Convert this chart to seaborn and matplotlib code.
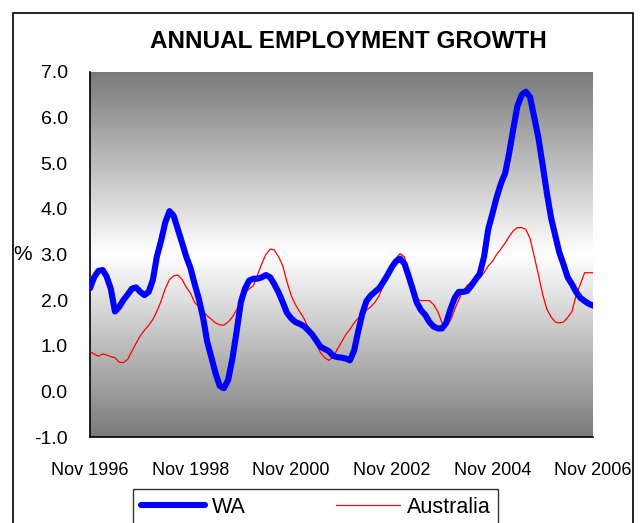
import numpy as np
import pandas as pd
import seaborn as sns
import matplotlib.pyplot as plt
from matplotlib.patches import Rectangle

# monthly annual employment growth (%), Nov 1996 - Nov 2006
wa_growth = [
    2.26, 2.50, 2.64, 2.66, 2.52, 2.25, 1.75, 1.85, 2.00, 2.12, 2.25, 2.28,
    2.18, 2.11, 2.18, 2.45, 2.95, 3.30, 3.70, 3.95, 3.85, 3.55, 3.25, 2.95,
    2.70, 2.35, 2.02, 1.60, 1.10, 0.75, 0.40, 0.12, 0.07, 0.25, 0.72, 1.30,
    1.95, 2.25, 2.43, 2.47, 2.47, 2.50, 2.55, 2.50, 2.35, 2.17, 1.95, 1.72,
    1.60, 1.52, 1.48, 1.43, 1.35, 1.25, 1.12, 0.98, 0.93, 0.88, 0.78, 0.75,
    0.74, 0.72, 0.68, 0.90, 1.30, 1.70, 1.98, 2.10, 2.18, 2.26, 2.40, 2.55,
    2.72, 2.85, 2.91, 2.80, 2.55, 2.25, 1.95, 1.78, 1.68, 1.52, 1.42, 1.38,
    1.38, 1.50, 1.80, 2.05, 2.18, 2.18, 2.20, 2.32, 2.45, 2.58, 2.95, 3.55,
    3.90, 4.25, 4.55, 4.78, 5.20, 5.75, 6.25, 6.50, 6.57, 6.45, 6.00, 5.55,
    4.95, 4.35, 3.80, 3.40, 3.05, 2.78, 2.50, 2.35, 2.18, 2.05, 1.98, 1.92,
    1.88,
]
aus_growth = [
    0.87, 0.82, 0.77, 0.82, 0.80, 0.76, 0.74, 0.64, 0.63, 0.70, 0.88, 1.05,
    1.22, 1.34, 1.45, 1.58, 1.75, 1.98, 2.25, 2.45, 2.53, 2.55, 2.45, 2.28,
    2.15, 1.95, 1.85, 1.75, 1.66, 1.58, 1.50, 1.46, 1.45, 1.52, 1.63, 1.78,
    1.95, 2.15, 2.25, 2.32, 2.55, 2.80, 3.00, 3.12, 3.10, 2.95, 2.75, 2.40,
    2.10, 1.90, 1.75, 1.60, 1.42, 1.25, 1.05, 0.85, 0.74, 0.68, 0.75, 0.92,
    1.08, 1.24, 1.36, 1.50, 1.60, 1.68, 1.78, 1.85, 1.95, 2.10, 2.32, 2.55,
    2.75, 2.92, 3.02, 2.95, 2.55, 2.22, 2.02, 1.99, 1.99, 1.99, 1.90, 1.75,
    1.50, 1.45, 1.55, 1.80, 2.00, 2.20, 2.32, 2.40, 2.45, 2.48, 2.60, 2.75,
    2.85, 3.00, 3.12, 3.25, 3.39, 3.52, 3.59, 3.59, 3.55, 3.35, 2.95, 2.55,
    2.12, 1.80, 1.63, 1.52, 1.50, 1.52, 1.62, 1.75, 2.10, 2.35, 2.60, 2.60,
    2.60,
]
months = pd.date_range('1996-11-01', periods=len(wa_growth), freq='MS')
tick_dates = pd.to_datetime(['1996-11-01', '1998-11-01', '2000-11-01',
                             '2002-11-01', '2004-11-01', '2006-11-01'])
tick_labels = ['Nov 1996', 'Nov 1998', 'Nov 2000', 'Nov 2002', 'Nov 2004', 'Nov 2006']
y_ticks = [-1.0, 0.0, 1.0, 2.0, 3.0, 4.0, 5.0, 6.0, 7.0]

df = pd.DataFrame({'month': months, 'WA': wa_growth, 'Australia': aus_growth})

sns.set_style('white')
plt.rcParams['font.family'] = ['Liberation Sans', 'DejaVu Sans']
plt.rcParams['axes.unicode_minus'] = False
for key in ['text.color', 'axes.labelcolor', 'xtick.color', 'ytick.color']:
    plt.rcParams[key] = 'black'

fig = plt.figure(figsize=(6.43, 5.23), dpi=100)
ax = fig.add_axes([90 / 643, 86 / 523, 503 / 643, 365 / 523])

# grey-white-grey gradient background
grad = np.abs(np.linspace(-1, 1, 256))[:, None]
x0 = pd.Timestamp(months[0]).toordinal() - 719163
x1 = pd.Timestamp(months[-1]).toordinal() - 719163
ax.imshow(1 - 0.52 * grad, cmap='gray', vmin=0, vmax=1, aspect='auto',
          extent=[x0, x1, -1, 7], zorder=0)

sns.lineplot(data=df, x='month', y='Australia', color='#ff0000', linewidth=0.9,
             ax=ax, label='Australia', zorder=3)
sns.lineplot(data=df, x='month', y='WA', color='#0000ff', linewidth=4.4,
             ax=ax, label='WA', zorder=4)

ax.set_xlim(months[0], months[-1])
ax.set_ylim(-1, 7)
ax.set_yticks(y_ticks)
ax.set_yticklabels([f'{v:.1f}' for v in y_ticks], fontsize=14)
ax.set_xticks(tick_dates)
ax.set_xticklabels(tick_labels, fontsize=13)
ax.tick_params(axis='y', direction='out', length=7, width=1, color='black', pad=9)
ax.tick_params(axis='x', direction='inout', length=16, width=1, color='#333333', pad=10)
ax.set_xlabel('')
ax.set_ylabel('%', fontsize=15, rotation=0, labelpad=8, va='center')
for side in ['top', 'right']:
    ax.spines[side].set_visible(False)
for side in ['left', 'bottom']:
    ax.spines[side].set_color('black')
    ax.spines[side].set_linewidth(1.2)

ax.get_legend().remove()
handles, labels = ax.get_legend_handles_labels()
order = [labels.index('WA'), labels.index('Australia')]
leg = fig.legend([handles[i] for i in order], [labels[i] for i in order],
                 loc='upper left', bbox_to_anchor=(133 / 643, 1 - 489 / 523),
                 ncol=2, fontsize=15.5, frameon=True, fancybox=False,
                 handlelength=3.0, handletextpad=0.3, columnspacing=4.2,
                 borderpad=0.35, borderaxespad=0)
leg.get_frame().set_edgecolor('black')
leg.get_frame().set_linewidth(1)

fig.suptitle('ANNUAL EMPLOYMENT GROWTH', x=348 / 643, y=1 - 41 / 523,
             fontsize=17.5, fontweight='bold', va='center')

fig.patches.append(Rectangle((13 / 643, -0.1), 620 / 643, 1 - 13 / 523 + 0.1,
                             transform=fig.transFigure, fill=False,
                             edgecolor='black', linewidth=1.2))

fig.savefig('out.png', dpi=100)
plt.close()
